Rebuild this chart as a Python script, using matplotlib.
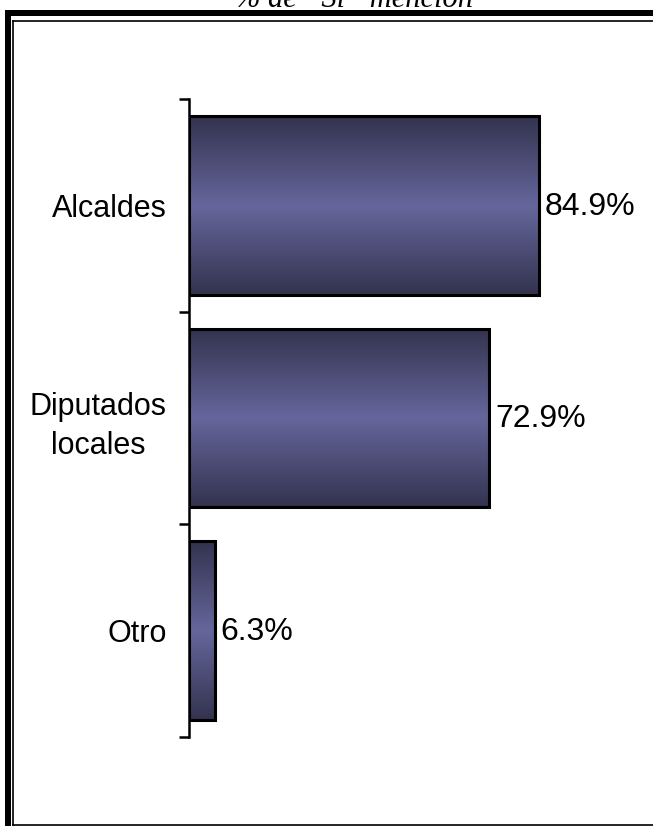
import numpy as np
import matplotlib
matplotlib.use("Agg")
import matplotlib.pyplot as plt
from matplotlib.colors import LinearSegmentedColormap
from matplotlib.patches import Rectangle
from matplotlib.lines import Line2D

categories = ["Alcaldes", "Diputados\nlocales", "Otro"]
values = [84.9, 72.9, 6.3]
value_labels = ["84.9%", "72.9%", "6.3%"]
title = "% de \u201cSí\u201d mención"

W, H = 653, 826
fig = plt.figure(figsize=(W / 100, H / 100), dpi=100)
fig.patch.set_facecolor("white")

ax = fig.add_axes([189 / W, 1 - 737 / H, 412 / W, (737 - 99) / H])
ax.set_xlim(0, 100)
ax.set_ylim(2.5, -0.5)
ax.set_facecolor("none")
for s in ["top", "right", "bottom"]:
    ax.spines[s].set_visible(False)
ax.spines["left"].set_linewidth(1.8)
ax.spines["left"].set_color("black")
ax.set_xticks([])

y = np.arange(len(categories))
ax.set_yticks(y)
ax.set_yticklabels(categories, fontsize=22, family="Liberation Sans", linespacing=1.4,
                   multialignment="center")
ax.tick_params(axis="y", which="major", length=0, pad=16)
ax.set_yticks([-0.5, 0.5, 1.5, 2.5], minor=True)
ax.tick_params(axis="y", which="minor", length=7, width=1.8, direction="out")

cmap = LinearSegmentedColormap.from_list(
    "g", [(0.0, "#33334f"), (0.5, "#66669c"), (1.0, "#33334f")]
)
grad = np.linspace(0, 1, 256).reshape(-1, 1)
bh = 0.84
bars = ax.barh(y, values, height=bh, color="none", edgecolor="black", linewidth=2.2, zorder=3)
for b in bars:
    x0, y0 = b.get_x(), b.get_y()
    w, h = b.get_width(), b.get_height()
    im = ax.imshow(grad, aspect="auto", cmap=cmap, extent=[x0, x0 + w, y0 + h, y0],
                   interpolation="bicubic", zorder=2)
    clip = Rectangle((x0, y0), w, h, transform=ax.transData, facecolor="none", edgecolor="none")
    ax.add_patch(clip)
    im.set_clip_path(clip)
ax.set_xlim(0, 100)
ax.set_ylim(2.5, -0.5)

for yi, v, lab in zip(y, values, value_labels):
    ax.annotate(lab, (v, yi), xytext=(4, -1), textcoords="offset points",
                ha="left", va="center", fontsize=23, family="Liberation Sans",
                annotation_clip=False)

# Title (partially cut at top, as in the reference)
fig.text(354 / W, 1 - 7 / H, title, ha="center", va="baseline", fontsize=22,
         family="Liberation Serif", style="italic")

# Frame
def px(x, yy):
    return x / W, 1 - yy / H

fig.add_artist(Rectangle(px(5, 826), 6 / W, (826 - 10) / H, transform=fig.transFigure,
                         facecolor="black", edgecolor="none"))
fig.add_artist(Rectangle(px(5, 16), (W - 5) / W, 6 / H, transform=fig.transFigure,
                         facecolor="black", edgecolor="none"))
lw = 1.2
fig.add_artist(Line2D([13 / W, 13 / W], [1 - 20.5 / H, 1 - 824.5 / H], transform=fig.transFigure,
                      color="black", linewidth=lw))
fig.add_artist(Line2D([13 / W, 1], [1 - 20.5 / H, 1 - 20.5 / H], transform=fig.transFigure,
                      color="black", linewidth=lw))
fig.add_artist(Line2D([13 / W, 1], [1 - 824.5 / H, 1 - 824.5 / H], transform=fig.transFigure,
                      color="black", linewidth=lw))

fig.savefig("out.png", dpi=100)
